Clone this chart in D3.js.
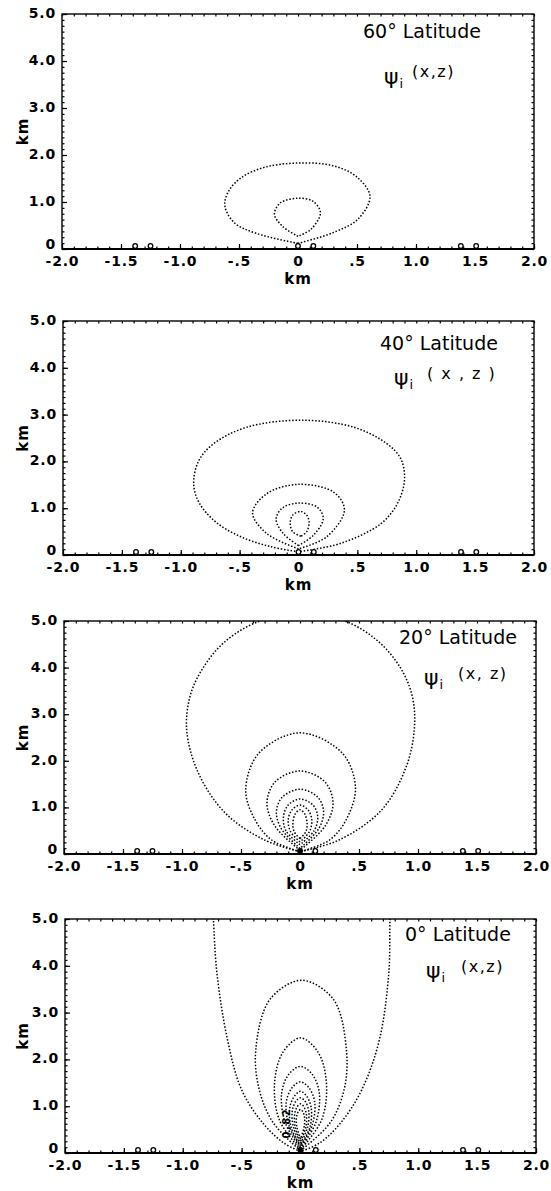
<!DOCTYPE html>
<html>
<head>
<meta charset="utf-8">
<script src="https://cdn.jsdelivr.net/npm/d3@7"></script>
<style>
  html, body { margin: 0; padding: 0; background: #fff; }
  svg { display: block; }
  text { font-family: "DejaVu Sans", sans-serif; fill: #000; }
</style>
</head>
<body>
<svg id="chart" width="551" height="1191"></svg>
<script>
// ---- data ----------------------------------------------------------------
const latitudeLabels = ["60\u00B0 Latitude", "40\u00B0 Latitude", "20\u00B0 Latitude", "0\u00B0 Latitude"];
const argumentLabels = ["(x,z)", "( x , z )", "(x, z)", "(x,z)"];

const xTicks = [-2, -1.5, -1, -0.5, 0, 0.5, 1, 1.5, 2];
const xTickLabels = ["-2.0", "-1.5", "-1.0", "-.5", "0", ".5", "1.0", "1.5", "2.0"];
const zTicks = [0, 1, 2, 3, 4, 5];
const zTickLabels = ["0", "1.0", "2.0", "3.0", "4.0", "5.0"];

// small station symbols sitting on the ground line (km)
const stationX = [-1.38, -1.25, 0, 0.13, 1.38, 1.51];

// streamfunction contours, [x km, z km], each starting and ending at its lower tip
const contours60 = [
  [[0,0.12],[-0.35,0.33],[-0.54,0.56],[-0.62,0.92],[-0.59,1.22],[-0.48,1.52],[-0.28,1.74],[0,1.83],[0.3,1.77],[0.5,1.53],[0.61,1.12],[0.51,0.64],[0.3,0.35],[0,0.12]],
  [[0,0.27],[-0.13,0.48],[-0.2,0.74],[-0.15,0.98],[0,1.08],[0.13,1.01],[0.19,0.77],[0.11,0.42],[0,0.27]]
];
const contours40 = [
  [[0,0.07],[-0.24,0.18],[-0.49,0.39],[-0.7,0.7],[-0.84,1.1],[-0.89,1.5],[-0.85,2.0],[-0.72,2.38],[-0.44,2.73],[0.03,2.88],[0.47,2.73],[0.75,2.38],[0.87,2.05],[0.9,1.6],[0.84,1.1],[0.7,0.67],[0.36,0.25],[0,0.07]],
  [[0,0.13],[-0.27,0.46],[-0.39,0.9],[-0.27,1.31],[0,1.51],[0.3,1.34],[0.39,0.96],[0.24,0.39],[0,0.13]],
  [[0,0.2],[-0.13,0.46],[-0.19,0.76],[-0.14,1.0],[0,1.11],[0.16,1.02],[0.21,0.78],[0.13,0.43],[0,0.2]],
  [[0.02,0.4],[-0.05,0.5],[-0.07,0.68],[-0.05,0.85],[0.02,0.93],[0.07,0.85],[0.09,0.7],[0.07,0.5],[0.02,0.4]]
];
const contours20 = [
  [[0,0.05],[-0.3,0.3],[-0.63,0.87],[-0.86,1.73],[-0.96,2.65],[-0.93,3.4],[-0.82,4.0],[-0.63,4.57],[-0.34,5.0],[0.02,5.15],[0.38,5.0],[0.66,4.57],[0.85,4.0],[0.95,3.4],[0.97,2.72],[0.9,1.87],[0.69,0.94],[0.33,0.3],[0,0.05]],
  [[0,0.05],[-0.24,0.3],[-0.38,0.73],[-0.46,1.37],[-0.35,2.16],[0,2.6],[0.36,2.16],[0.47,1.42],[0.39,0.73],[0.25,0.3],[0,0.05]],
  [[0,0.08],[-0.21,0.59],[-0.28,1.09],[-0.21,1.55],[0,1.78],[0.21,1.55],[0.28,1.09],[0.21,0.59],[0,0.08]],
  [[0,0.12],[-0.16,0.55],[-0.2,0.91],[-0.15,1.22],[0,1.39],[0.15,1.22],[0.2,0.91],[0.16,0.55],[0,0.12]],
  [[0,0.2],[-0.12,0.5],[-0.14,0.8],[-0.1,1.05],[0,1.18],[0.11,1.05],[0.15,0.8],[0.12,0.5],[0,0.2]],
  [[0,0.26],[-0.08,0.48],[-0.1,0.73],[-0.07,0.94],[0,1.05],[0.07,0.94],[0.1,0.73],[0.08,0.48],[0,0.26]],
  [[0,0.33],[-0.05,0.48],[-0.06,0.66],[-0.04,0.86],[0,0.95],[0.04,0.86],[0.06,0.66],[0.05,0.48],[0,0.33]]
];
const contours0 = [
  [[0,0.03],[-0.14,0.21],[-0.32,0.64],[-0.5,1.35],[-0.62,2.42],[-0.71,3.85],[-0.74,5.0],[-0.75,5.4],[0.77,5.4],[0.76,5.0],[0.75,3.85],[0.67,2.42],[0.52,1.35],[0.34,0.64],[0.16,0.21],[0,0.03]],
  [[0,0.05],[-0.23,0.64],[-0.35,1.35],[-0.38,2.2],[-0.26,3.28],[0.01,3.69],[0.28,3.28],[0.39,2.2],[0.37,1.35],[0.25,0.64],[0,0.05]],
  [[0,0.07],[-0.18,0.71],[-0.22,1.5],[-0.15,2.15],[0,2.46],[0.15,2.15],[0.22,1.5],[0.18,0.71],[0,0.07]],
  [[0,0.1],[-0.13,0.65],[-0.16,1.28],[-0.1,1.68],[0,1.85],[0.1,1.68],[0.16,1.28],[0.13,0.65],[0,0.1]],
  [[0,0.13],[-0.1,0.6],[-0.12,1.1],[-0.07,1.4],[0,1.52],[0.07,1.4],[0.12,1.1],[0.1,0.6],[0,0.13]],
  [[0,0.16],[-0.08,0.55],[-0.09,0.98],[-0.05,1.22],[0,1.32],[0.05,1.22],[0.09,0.98],[0.08,0.55],[0,0.16]],
  [[0,0.2],[-0.06,0.55],[-0.07,0.9],[-0.04,1.1],[0,1.18],[0.04,1.1],[0.07,0.9],[0.06,0.55],[0,0.2]],
  [[0,0.25],[-0.045,0.55],[-0.05,0.82],[-0.03,0.98],[0,1.05],[0.03,0.98],[0.05,0.82],[0.045,0.55],[0,0.25]],
  [[0,0.3],[-0.03,0.55],[-0.035,0.75],[-0.02,0.88],[0,0.93],[0.02,0.88],[0.035,0.75],[0.03,0.55],[0,0.3]]
];
const contourSets = [contours60, contours40, contours20, contours0];

// contour value label written along the inner equatorial contours
const innerLabel = { text: "0.82", x: -0.12, z: 0.64 };

// ---- layout --------------------------------------------------------------
const frames = [
  { left: 62, right: 534, top: 14,  bottom: 249 },
  { left: 63, right: 534, top: 321, bottom: 555 },
  { left: 64, right: 536, top: 621, bottom: 854 },
  { left: 65, right: 536, top: 919, bottom: 1153 }
];
// text offsets from each frame's top-right corner
const titleOffset = [[-171, 24], [-154, 29], [-137, 23], [-131, 22]];
const psiOffset   = [[-150, 70], [-140, 64], [-112, 64], [-110, 59]];
const argOffset   = [[-122, 63], [-107, 58], [-78, 58], [-75, 53]];
const filledCentre = [false, false, true, true];

const svg = d3.select("#chart");
const defs = svg.append("defs");

contourSets.forEach((contours, i) => {
  const f = frames[i];
  const x = d3.scaleLinear().domain([-2, 2]).range([f.left, f.right]);
  const z = d3.scaleLinear().domain([0, 5]).range([f.bottom, f.top]);
  const g = svg.append("g");

  defs.append("clipPath").attr("id", "plot-clip-" + i)
    .append("rect")
    .attr("x", f.left).attr("y", f.top)
    .attr("width", f.right - f.left).attr("height", f.bottom - f.top);

  // dotted streamfunction contours
  const line = d3.line()
    .x(d => x(d[0])).y(d => z(d[1]))
    .curve(d3.curveCatmullRom.alpha(0.5));
  g.append("g").attr("clip-path", "url(#plot-clip-" + i + ")")
    .selectAll("path").data(contours).join("path")
    .attr("d", line)
    .attr("fill", "none")
    .attr("stroke", "#000")
    .attr("stroke-width", 1.5)
    .attr("stroke-dasharray", "1.5,1.8");

  if (i === 3) {
    g.append("text")
      .attr("transform", `translate(${x(innerLabel.x)},${z(innerLabel.z)}) rotate(-90)`)
      .attr("text-anchor", "middle")
      .attr("dominant-baseline", "central")
      .attr("font-size", 10).attr("font-weight", "bold").attr("letter-spacing", 1.5)
      .attr("fill", "#000")
      .text(innerLabel.text);
  }

  // axes: major ticks with labels, minor ticks without
  const minorX = d3.range(-20, 21).map(k => k / 10);
  const minorZ = d3.range(0, 41).map(k => k / 8);
  const styleAxis = sel => {
    sel.select(".domain").remove();
    sel.selectAll(".tick line").attr("stroke", "#000").attr("stroke-width", 1.2);
    sel.selectAll(".tick text")
      .attr("font-family", "DejaVu Sans, sans-serif")
      .attr("font-weight", "bold").attr("font-size", 14)
      .attr("letter-spacing", 0.8).attr("fill", "#000");
  };

  g.append("g").attr("transform", `translate(0,${f.bottom})`)
    .call(d3.axisBottom(x).tickValues(minorX).tickSize(-2.5).tickFormat(""))
    .call(styleAxis);
  g.append("g").attr("transform", `translate(0,${f.bottom})`)
    .call(d3.axisBottom(x).tickValues(xTicks).tickSize(-5).tickPadding(7)
      .tickFormat((d, k) => xTickLabels[k]))
    .call(styleAxis);
  g.append("g").attr("transform", `translate(0,${f.top})`)
    .call(d3.axisTop(x).tickValues(minorX).tickSize(-2.5).tickFormat(""))
    .call(styleAxis);
  g.append("g").attr("transform", `translate(${f.left},0)`)
    .call(d3.axisLeft(z).tickValues(minorZ).tickSize(-2.5).tickFormat(""))
    .call(styleAxis);
  const zLabels = g.append("g").attr("transform", `translate(${f.left},-1)`)
    .call(d3.axisLeft(z).tickValues(zTicks).tickSize(0).tickPadding(6)
      .tickFormat((d, k) => zTickLabels[k]))
    .call(styleAxis);
  // the ground label sits a little higher so it clears the x labels below it
  zLabels.selectAll(".tick text").filter(d => d === 0).attr("y", -4);
  g.append("g").attr("transform", `translate(${f.left},0)`)
    .call(d3.axisLeft(z).tickValues(zTicks).tickSize(-5).tickFormat(""))
    .call(styleAxis);
  g.append("g").attr("transform", `translate(${f.right},0)`)
    .call(d3.axisRight(z).tickValues(minorZ).tickSize(-2.5).tickFormat(""))
    .call(styleAxis);

  // frame
  g.append("rect")
    .attr("x", f.left).attr("y", f.top)
    .attr("width", f.right - f.left).attr("height", f.bottom - f.top)
    .attr("fill", "none").attr("stroke", "#000").attr("stroke-width", 1.4);
  g.append("line")
    .attr("x1", f.left).attr("x2", f.right)
    .attr("y1", f.bottom).attr("y2", f.bottom)
    .attr("stroke", "#000").attr("stroke-width", 2);

  // station symbols on the ground line
  g.selectAll("circle.station").data(stationX).join("circle")
    .attr("class", "station")
    .attr("cx", d => x(d)).attr("cy", f.bottom - 3)
    .attr("r", 2.3)
    .attr("fill", d => (filledCentre[i] && d === 0) ? "#000" : "#fff")
    .attr("stroke", "#000").attr("stroke-width", 1.3);

  // axis titles
  g.append("text")
    .attr("x", x(0)).attr("y", f.bottom + 35)
    .attr("text-anchor", "middle")
    .attr("font-weight", "bold").attr("font-size", 15).attr("letter-spacing", 1)
    .text("km");
  g.append("text")
    .attr("transform", `translate(23,${(f.top + f.bottom) / 2}) rotate(-90)`)
    .attr("text-anchor", "middle").attr("dominant-baseline", "central")
    .attr("font-weight", "bold").attr("font-size", 15).attr("letter-spacing", 1)
    .text("km");

  // panel annotations
  g.append("text")
    .attr("x", f.right + titleOffset[i][0]).attr("y", f.top + titleOffset[i][1])
    .attr("font-size", 19)
    .text(latitudeLabels[i]);
  const psi = g.append("text")
    .attr("x", f.right + psiOffset[i][0]).attr("y", f.top + psiOffset[i][1])
    .attr("font-size", 22);
  psi.append("tspan").text("\u03C8");
  psi.append("tspan").attr("font-size", 13).attr("dy", 4).attr("dx", 1).text("i");
  g.append("text")
    .attr("x", f.right + argOffset[i][0]).attr("y", f.top + argOffset[i][1])
    .attr("font-size", 16).attr("letter-spacing", 1.5)
    .text(argumentLabels[i]);
});
</script>
</body>
</html>
